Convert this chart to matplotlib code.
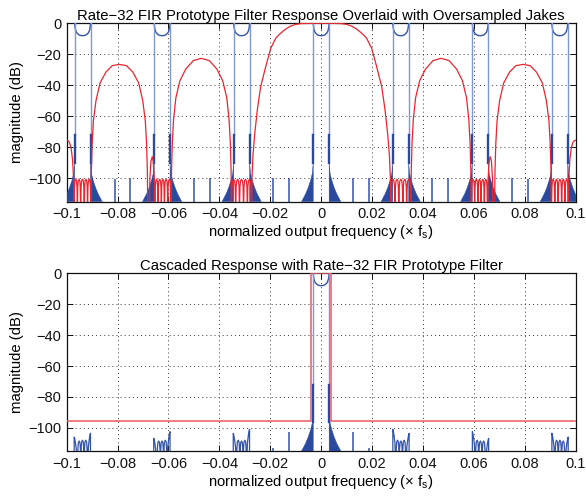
import numpy as np
import matplotlib
matplotlib.use("Agg")
import matplotlib.pyplot as plt

plt.rcParams["font.family"] = ["Liberation Sans", "DejaVu Sans"]
plt.rcParams["mathtext.fontset"] = "custom"
plt.rcParams["mathtext.rm"] = "Liberation Sans"
plt.rcParams["mathtext.it"] = "Liberation Sans"
plt.rcParams["mathtext.default"] = "regular"

# ---------------------------------------------------------------- data
# spectral images of the upsampled Jakes process (multiples of 1/32)
IMAGE_CENTERS = [-0.09375, -0.0625, -0.03125, 0.0, 0.03125, 0.0625, 0.09375]
DOPPLER_EDGE = 0.003125

# Jakes "U" near the top: position as fraction of the Doppler edge vs level
JAKES_R = [0.0, 0.3, 0.5, 0.7, 0.8, 0.9, 0.95, 0.98, 1.0]
JAKES_DB = [-8.0, -7.8, -7.3, -6.3, -5.5, -4.0, -2.5, -1.0, 0.0]

# Doppler-edge walls: light upper part and dense lower part (dB)
EDGE_TOP_DB = 0.0
EDGE_MID_DB = -72.0
EDGE_LOW_DB_TOP = -90.0
EDGE_LOW_DB_BOTTOM = -96.0

# sidelobe skirt just outside each Doppler edge: distance outwards vs level
SKIRT_D = [0.0, 0.0004, 0.0010, 0.0020, 0.0030, 0.0046]
SKIRT_DB = [-90.0, -97.0, -101.0, -106.0, -110.0, -115.0]

# isolated spurs of the oversampled Jakes spectrum
SPUR_F = [-0.0811, -0.0750, -0.0500, -0.0437, -0.0188, -0.0125,
          0.0125, 0.0188, 0.0437, 0.0500, 0.0750, 0.0811]
SPUR_DB = [-100.5, -100.0, -100.0, -100.0, -100.0, -100.0,
           -100.0, -100.0, -100.0, -100.0, -100.0, -100.5]

# Rate-32 FIR prototype, positive half (mirrored for negative frequencies)
MAIN_F = [0.0, 0.004, 0.008, 0.010, 0.012, 0.014, 0.016, 0.0178, 0.0198,
          0.0218, 0.0238, 0.0251, 0.0261, 0.0268, 0.0272, 0.0274]
MAIN_DB = [0.0, 0.0, -0.2, -0.7, -1.8, -3.8, -6.5, -9.5, -16.0,
           -28.0, -41.0, -56.0, -71.0, -85.0, -100.0, -140.0]

LOBE1_F = [0.0352, 0.0354, 0.0357, 0.0362, 0.0371, 0.0387, 0.0410, 0.0440,
           0.0471, 0.0502, 0.0532, 0.0555, 0.0571, 0.0580, 0.0585, 0.0588, 0.0590]
LOBE1_DB = [-140.0, -95.0, -77.0, -62.0, -48.0, -37.0, -29.5, -24.0,
            -22.6, -24.0, -29.5, -37.0, -48.0, -62.0, -77.0, -95.0, -140.0]

BUMP_F = [0.0653, 0.0656, 0.0660, 0.0664, 0.0669, 0.0673, 0.0677]
BUMP_DB = [-140.0, -100.0, -89.0, -86.0, -89.0, -100.0, -140.0]

LOBE2_F = [0.0680, 0.0683, 0.0686, 0.0691, 0.0701, 0.0717, 0.0740, 0.0765,
           0.0793, 0.0821, 0.0846, 0.0869, 0.0885, 0.0895, 0.0900, 0.0903, 0.0905]
LOBE2_DB = [-140.0, -95.0, -78.0, -63.0, -50.0, -38.5, -31.5, -27.3,
            -26.5, -27.3, -31.5, -38.5, -50.0, -63.0, -78.0, -95.0, -140.0]

EDGE_F = [0.0971, 0.0973, 0.0977, 0.0983, 0.0990, 0.0996, 0.1000]
EDGE_DB = [-140.0, -100.0, -88.0, -80.0, -76.5, -75.5, -75.5]

# equiripple stopbands: null positions and ripple peak level
RIPPLE_NULLS = [
    [0.0274, 0.0290, 0.0305, 0.0321, 0.0336, 0.0352],
    [0.0590, 0.0603, 0.0616, 0.0628, 0.0641, 0.0653],
    [0.0905, 0.0918, 0.0931, 0.0945, 0.0958, 0.0971],
]
RIPPLE_PEAK_DB = -100.5
ARCH_U = [0.0, 0.04, 0.12, 0.25, 0.5, 0.75, 0.88, 0.96, 1.0]
ARCH_REL = [-40.0, -15.0, -5.0, -1.2, 0.0, -1.2, -5.0, -15.0, -40.0]

# cascaded response: residual images (negative side, mirrored for positive)
GROUP_CENTERS = [-0.09375, -0.0625, -0.03125]
GROUP_NULLS = [-0.0033, -0.0020, -0.0007, 0.0006, 0.0019, 0.0031]
GROUP_PEAKS = [
    [-106.0, -108.5, -108.0, -108.0, -103.5],
    [-106.8, -108.5, -108.5, -108.0, -102.5],
    [-103.6, -108.0, -108.5, -108.0, -101.0],
]
SPIKE_U = [0.0, 0.3, 0.6, 0.85, 1.0, 1.0]
SPIKE_REL = [-30.0, -9.0, -4.0, -1.0, 0.0, -30.0]

BOTTOM_SPUR_F = [-0.0188, -0.0127, 0.0125, 0.0186]
BOTTOM_SPUR_DB = [-113.0, -102.5, -102.5, -113.0]

# spectral mask of the cascade
MASK_EDGE = 0.004
MASK_FLOOR_DB = -95.7

XTICKS = [-0.1, -0.08, -0.06, -0.04, -0.02, 0.0, 0.02, 0.04, 0.06, 0.08, 0.1]
XTICK_LABELS = ["\u22120.1", "\u22120.08", "\u22120.06", "\u22120.04", "\u22120.02",
                "0", "0.02", "0.04", "0.06", "0.08", "0.1"]
YTICKS = [-100, -80, -60, -40, -20, 0]
YTICK_LABELS = ["\u2212100", "\u221280", "\u221260", "\u221240", "\u221220", "0"]

TITLE_TOP = "Rate\u221232 FIR Prototype Filter Response Overlaid with Oversampled Jakes"
TITLE_BOTTOM = "Cascaded Response with Rate\u221232 FIR Prototype Filter"
XLABEL = "normalized output frequency (\u00d7 f$_s$)"
YLABEL = "magnitude (dB)"

# ---------------------------------------------------------------- style
RED = "#e8262e"
MASK_RED = "#ee5a62"
BLUE = "#3454a8"
BLUE_LIGHT = "#8098d2"
BLUE_DARK = "#2b4a9e"
FS_TEXT = 10.7
FS_TICK = 10.5


def arch(f0, f1, peak, u, rel):
    u = np.asarray(u)
    return f0 + (f1 - f0) * u, peak + np.asarray(rel)


def filter_half():
    fs, ds = [np.asarray(MAIN_F)], [np.asarray(MAIN_DB)]

    def add_band(nulls):
        for a, b in zip(nulls[:-1], nulls[1:]):
            f, d = arch(a, b, RIPPLE_PEAK_DB, ARCH_U, ARCH_REL)
            fs.append(f)
            ds.append(d)

    add_band(RIPPLE_NULLS[0])
    fs.append(np.asarray(LOBE1_F)); ds.append(np.asarray(LOBE1_DB))
    add_band(RIPPLE_NULLS[1])
    fs.append(np.asarray(BUMP_F)); ds.append(np.asarray(BUMP_DB))
    fs.append(np.asarray(LOBE2_F)); ds.append(np.asarray(LOBE2_DB))
    add_band(RIPPLE_NULLS[2])
    fs.append(np.asarray(EDGE_F)); ds.append(np.asarray(EDGE_DB))
    return np.concatenate(fs), np.concatenate(ds)


def draw_image(ax, c, low_bottom, skirt=True):
    r = np.asarray(JAKES_R)
    d = np.asarray(JAKES_DB)
    xs = c + DOPPLER_EDGE * np.concatenate([-r[::-1], r[1:]])
    ys = np.concatenate([d[::-1], d[1:]])
    ax.plot(xs, ys, color=BLUE, lw=1.0, zorder=3)
    for s in (-1, 1):
        e = c + s * DOPPLER_EDGE
        ax.plot([e, e], [EDGE_TOP_DB, EDGE_MID_DB], color=BLUE_LIGHT, lw=1.0, zorder=3)
        ax.plot([e, e], [EDGE_MID_DB, low_bottom], color=BLUE_DARK, lw=1.7, zorder=3)
        if skirt:
            sx = e + s * np.asarray(SKIRT_D)
            px = np.concatenate([[e], sx, [e]])
            py = np.concatenate([[SKIRT_DB[0]], SKIRT_DB, [-115.0]])
            ax.fill(px, py, color=BLUE_DARK, lw=0.3, zorder=3)


def style_axes(ax, title):
    ax.set_xlim(-0.1, 0.1)
    ax.set_ylim(-115, 0)
    ax.set_xticks(XTICKS)
    ax.set_xticklabels(XTICK_LABELS)
    ax.set_yticks(YTICKS)
    ax.set_yticklabels(YTICK_LABELS)
    ax.tick_params(direction="in", length=4, width=0.7, top=True, right=True,
                   labelsize=FS_TICK, pad=4, colors="#111111")
    ax.grid(True, color="#222222", lw=0.7, linestyle=(0, (1.0, 3.2)), alpha=0.9)
    ax.set_axisbelow(True)
    for sp in ax.spines.values():
        sp.set_linewidth(0.9)
        sp.set_color("#111111")
    ax.set_title(title, fontsize=FS_TEXT, pad=2.5)
    ax.set_xlabel(XLABEL, fontsize=FS_TEXT, labelpad=1.5)
    ax.set_ylabel(YLABEL, fontsize=FS_TEXT, labelpad=3)


fig = plt.figure(figsize=(5.86, 5.0), dpi=100)
ax1 = fig.add_axes([0.1138, 0.5967, 0.8686, 0.3567])
ax2 = fig.add_axes([0.1138, 0.0980, 0.8686, 0.3553])

# ---- top: prototype filter over the oversampled Jakes spectrum
for c in IMAGE_CENTERS:
    draw_image(ax1, c, EDGE_LOW_DB_TOP)
ax1.vlines(SPUR_F, -115, SPUR_DB, color=BLUE, lw=1.1, zorder=3)
hf, hd = filter_half()
ax1.plot(np.concatenate([-hf[::-1], hf]), np.concatenate([hd[::-1], hd]),
         color=RED, lw=0.9, zorder=4)
style_axes(ax1, TITLE_TOP)

# ---- bottom: cascaded response
draw_image(ax2, 0.0, EDGE_LOW_DB_BOTTOM)
gn = np.asarray(GROUP_NULLS)
for c, peaks in zip(GROUP_CENTERS, GROUP_PEAKS):
    for side in (1, -1):
        fs_, ds_ = [], []
        for i, (a, b, p) in enumerate(zip(gn[:-1], gn[1:], peaks)):
            if i == 0:
                f, d = arch(b, a, p, SPIKE_U, SPIKE_REL)
                f, d = f[::-1], d[::-1]
            elif i == len(peaks) - 1:
                f, d = arch(a, b, p, SPIKE_U, SPIKE_REL)
            else:
                f, d = arch(a, b, p, ARCH_U, ARCH_REL)
            fs_.append(f)
            ds_.append(d)
        f = np.concatenate(fs_)
        d = np.concatenate(ds_)
        if side == 1:
            ax2.plot(c + f, d, color=BLUE, lw=0.9, zorder=3)
        else:
            ax2.plot(-c - f, d, color=BLUE, lw=0.9, zorder=3)
ax2.vlines(BOTTOM_SPUR_F, -115, BOTTOM_SPUR_DB, color=BLUE, lw=1.1, zorder=3)
ax2.plot([-0.1, -MASK_EDGE, -MASK_EDGE, MASK_EDGE, MASK_EDGE, 0.1],
         [MASK_FLOOR_DB, MASK_FLOOR_DB, 0, 0, MASK_FLOOR_DB, MASK_FLOOR_DB],
         color=MASK_RED, lw=1.1, zorder=4)
style_axes(ax2, TITLE_BOTTOM)

fig.savefig("out.png", dpi=100)
